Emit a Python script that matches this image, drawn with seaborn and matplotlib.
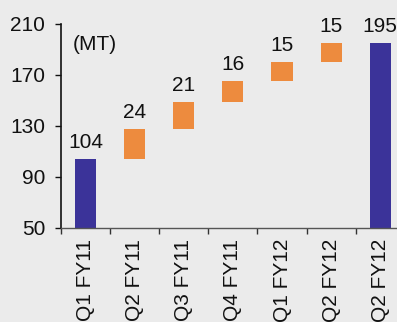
import matplotlib
matplotlib.use("Agg")
import matplotlib.pyplot as plt
import seaborn as sns
import pandas as pd

quarters = ["Q1 FY11", "Q2 FY11", "Q3 FY11", "Q4 FY11", "Q1 FY12", "Q2 FY12", "Q2 FY12 "]
values = [104, 24, 21, 16, 15, 15, 195]
kinds = ["total", "step", "step", "step", "step", "step", "total"]
tick_labels = ["Q1 FY11", "Q2 FY11", "Q3 FY11", "Q4 FY11", "Q1 FY12", "Q2 FY12", "Q2 FY12"]

# waterfall bases: totals start at zero, steps start at the running sum
bases = []
running = 0
for v, k in zip(values, kinds):
    if k == "total":
        bases.append(0)
        running = v
    else:
        bases.append(running)
        running += v
tops = [b + v for b, v in zip(bases, values)]

blue = "#3b3399"
orange = "#ed8b3e"
bg = "#ebebeb"
colors = [blue if k == "total" else orange for k in kinds]

df = pd.DataFrame({"quarter": quarters, "top": tops})

sns.set_style("white")
plt.rcParams["font.family"] = ["Liberation Sans", "DejaVu Sans"]

fs = 15

fig = plt.figure(figsize=(3.97, 3.22), dpi=100, facecolor=bg)
ax = fig.add_axes([0.1537, 0.292, 0.866, 0.6335])
ax.set_facecolor(bg)

sns.barplot(data=df, x="quarter", y="top", hue="quarter", palette=colors,
            legend=False, width=0.43, saturation=1, ax=ax)

# turn the full-height bars into floating waterfall segments
for patch, b, v in zip(ax.patches, bases, values):
    patch.set_y(b)
    patch.set_height(v)
    patch.set_edgecolor("none")

for i, (t, v) in enumerate(zip(tops, values)):
    ax.annotate(f"{v}", xy=(i, t), xytext=(0, 5), textcoords="offset points",
                ha="center", va="bottom", fontsize=fs, color="#111111")

ax.set_ylim(50, 210)
ax.set_xlim(-0.5, 6.5)
ax.set_yticks([50, 90, 130, 170, 210])
ax.set_xticks(range(len(tick_labels)))
ax.set_xticklabels(tick_labels, rotation=90, va="top", ha="center")
ax.set_xticks([i - 0.5 for i in range(len(tick_labels))], minor=True)
ax.tick_params(axis="x", which="major", length=0, pad=8, labelsize=fs, colors="#111111")
ax.tick_params(axis="x", which="minor", length=4, width=1, color="#333333", bottom=True)
ax.tick_params(axis="y", length=4.5, width=1, pad=7, labelsize=fs, colors="#111111",
               left=True)
ax.set_xlabel("")
ax.set_ylabel("")

for s in ["top", "right"]:
    ax.spines[s].set_visible(False)
ax.spines["left"].set_color("#111111")
ax.spines["left"].set_linewidth(1.2)
ax.spines["bottom"].set_color("#555555")
ax.spines["bottom"].set_linewidth(1.0)

ax.text(0.033, 0.9, "(MT)", transform=ax.transAxes, fontsize=fs,
        ha="left", va="center", color="#111111")

fig.savefig("out.png", dpi=100, facecolor=bg)
